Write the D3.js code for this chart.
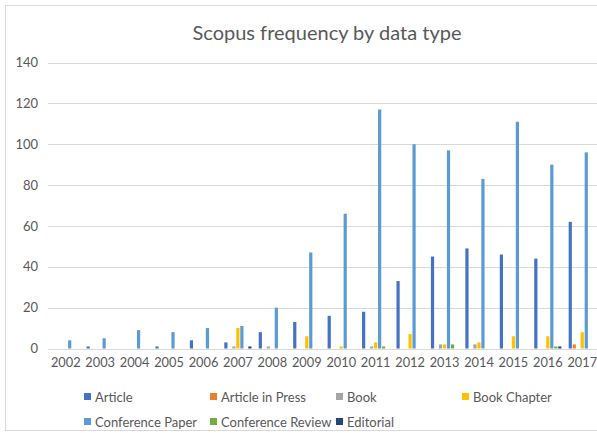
<!DOCTYPE html>
<html><head><meta charset="utf-8">
<script src="https://cdn.jsdelivr.net/npm/d3@7"></script>
<style>
html,body{margin:0;padding:0;background:#fff;}
svg{display:block;font-family:Lato,"Noto Sans",sans-serif;}
</style></head>
<body>
<svg id="c" width="597" height="433"></svg>
<script>
const years = ["2002","2003","2004","2005","2006","2007","2008","2009","2010","2011","2012","2013","2014","2015","2016","2017"];
const seriesNames = ["Article","Article in Press","Book","Book Chapter","Conference Paper","Conference Review","Editorial"];
const seriesColors = ["#4472C4","#ED7D31","#A5A5A5","#FFC000","#5B9BD5","#70AD47","#264478"];
const article          = [0,1,0,1,4,3,8,13,16,18,33,45,49,46,44,62];
const articleInPress   = [0,0,0,0,0,0,0,0,0,0,0,0,0,0,0,2];
const book             = [0,0,0,0,0,1,1,0,0,1,0,2,2,0,0,0];
const bookChapter      = [0,0,0,0,0,10,0,6,1,3,7,2,3,6,6,8];
const conferencePaper  = [4,5,9,8,10,11,20,47,66,117,100,97,83,111,90,96];
const conferenceReview = [0,0,0,0,0,0,0,0,0,1,0,2,0,0,1,0];
const editorial        = [0,0,0,0,0,1,0,0,0,0,0,0,0,0,1,0];
const yTicks = [0,20,40,60,80,100,120,140];
const title = "Scopus frequency by data type";

const seriesValues = [article,articleInPress,book,bookChapter,conferencePaper,conferenceReview,editorial];

const svg = d3.select("#c");
const txt = "#595959", grid = "#d9d9d9";

svg.append("rect").attr("x",5.5).attr("y",5.5).attr("width",600).attr("height",425)
  .attr("fill","#fff").attr("stroke","#d9d9d9");

const x0 = d3.scaleBand().domain(years).range([48.5,599.5]).padding(0);
const x1 = d3.scaleBand().domain(seriesNames).range([3.2,31.2]).paddingInner(0.2).paddingOuter(0.1);
const y = d3.scaleLinear().domain([0,140]).range([348.5,62.5]);

// gridlines
svg.append("g").selectAll("line").data(yTicks).join("line")
  .attr("x1",48).attr("x2",600).attr("y1",d=>Math.round(y(d))+0.5).attr("y2",d=>Math.round(y(d))+0.5)
  .attr("stroke",grid).attr("stroke-width",1);

// y axis labels
const ya = svg.append("g").attr("transform","translate(38,0)")
  .call(d3.axisLeft(y).tickValues(yTicks).tickSize(0).tickPadding(0));
ya.select(".domain").remove();
ya.selectAll("text").attr("fill",txt).style("font-size","13px").style("font-family","Lato,'Noto Sans',sans-serif");

// bars
const groups = svg.append("g").selectAll("g").data(years).join("g")
  .attr("transform",d=>`translate(${x0(d)},0)`);
groups.selectAll("rect").data((d,i)=>seriesNames.map((s,k)=>({s,k,v:seriesValues[k][i]})).filter(o=>o.v>0))
  .join("rect")
  .attr("x",o=>x1(o.s)).attr("width",x1.bandwidth())
  .attr("y",o=>y(o.v)).attr("height",o=>y(0)-y(o.v))
  .attr("fill",o=>seriesColors[o.k]);

// x axis
const xa = svg.append("g").attr("transform","translate(0,349)")
  .call(d3.axisBottom(x0).tickSize(0).tickPadding(9));
xa.select(".domain").remove();
xa.selectAll("text").attr("fill",txt).style("font-size","12.8px").style("font-family","Lato,'Noto Sans',sans-serif");

// title
svg.append("text").attr("x",327).attr("y",40).attr("text-anchor","middle")
  .attr("fill",txt).style("font-size","20px").text(title);

// legend
const legX = [84,210,336,462];
const legY = [397,422];
const leg = svg.append("g").selectAll("g").data(seriesNames).join("g")
  .attr("transform",(d,i)=>`translate(${legX[i%4]},${legY[Math.floor(i/4)]})`);
leg.append("rect").attr("x",0).attr("y",-4).attr("width",7).attr("height",7).attr("fill",(d,i)=>seriesColors[i]);
leg.append("text").attr("x",11).attr("y",0).attr("dy","0.35em").attr("fill",txt).style("font-size","13px").text(d=>d);
</script>
</body></html>
